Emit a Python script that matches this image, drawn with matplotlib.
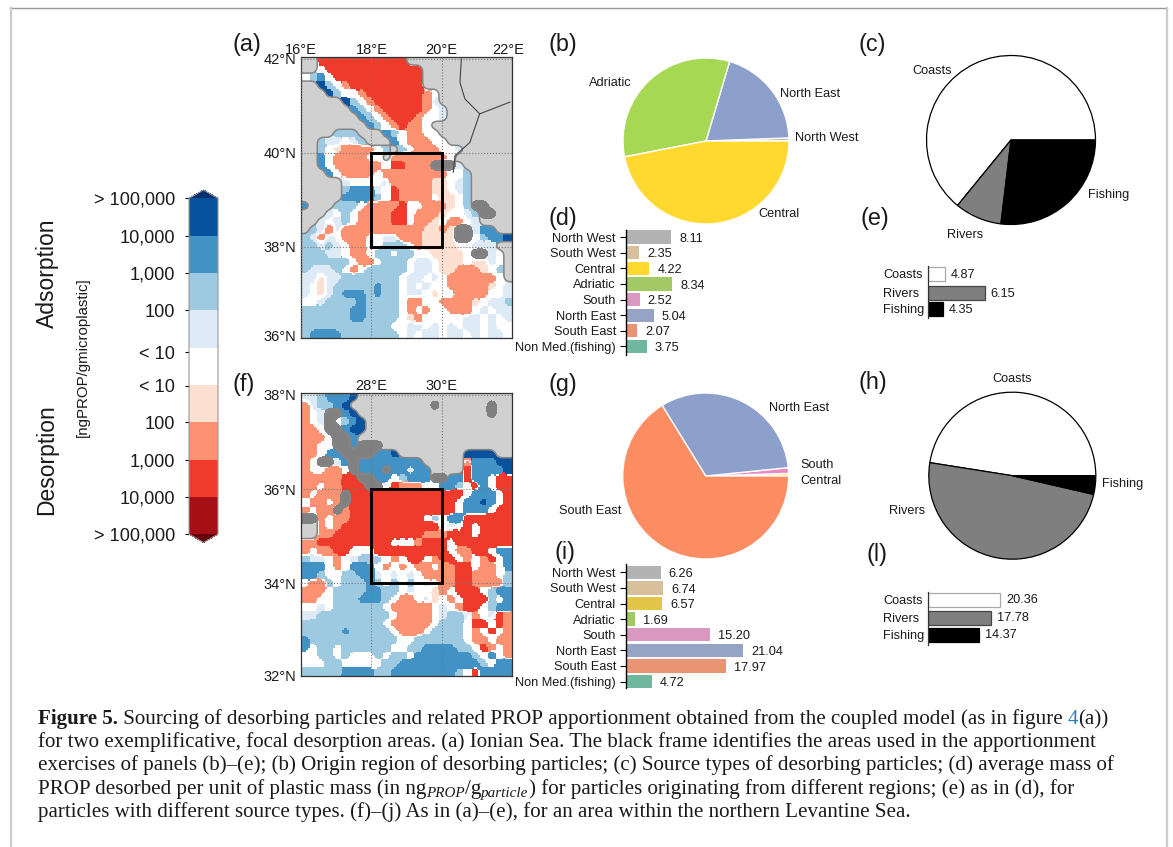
import numpy as np
import matplotlib
matplotlib.use("Agg")
import matplotlib.pyplot as plt
from matplotlib.colors import ListedColormap, BoundaryNorm
from matplotlib.cm import ScalarMappable
from matplotlib.patches import Rectangle
from matplotlib.transforms import ScaledTranslation

W, H = 1173, 847
plt.rcParams['font.family'] = ['Liberation Sans', 'DejaVu Sans']
TXT = '#1a1a1a'

# ---- map category grids (top row = north) -----------------------------------
# L land, K dark land; 0 white; a-d adsorption classes; e-h desorption classes
map_a = [
"LLgggggggggggLLLLLLLLLLLLL",
"LL0ggggggggggggLLLLLLLLLLL",
"0bc0gggggggggggLLLLLLLLLLL",
"LLdb0fgggggggggLLLLLLLLLLL",
"LLLdb00fgggggggf0LLLLLLLLL",
"LLLLLdb0fggggggfaLLLLLLLLL",
"LLLLLLcb0fgggggf0aLLLLLLLL",
"LLLLLLLcb0fgggf00aLLLLLLLL",
"LLLLLLLLcb0fgff0LLLLLLLLLL",
"LLLLbbbLLLcb0ff00LLLLLLLLL",
"LLbaa0abLLLc0fff00LLLLLLLL",
"LLb0effff0bLb0fff00aLLLLLL",
"LLc0ffff00Lfffffff0LLLLLLL",
"LLc0ffffff0ggfffKKKaLLLLLL",
"LLLc0ffff0ffffffff00bLLLLL",
"LLLLLa0000afffffee0abLLLLL",
"LLLLLbccca0gffffee0abLLLLL",
"LLLLLccccb0gffff0ee0bLLLLL",
"cLLLbbb0ffffg00fffe0bKKLLL",
"LLLa0b0ffffgg0fffe00abKKLL",
"LLa0ab0ffffgg0ffe0ff0aLLLL",
"LbafaffffffffffeefeKKaccLL",
"bafa0fffa0aafffeeeeKK0bccd",
"bbaba0ffa0bbb0feeee00aaaLL",
"bbbaa0ff0bb0bb00eeee0KKa0L",
"bbbbbb0ff0bbb0aa0eee0eea0L",
"baaab0f0bbbbb0aa0eefffe0bL",
"aaeaabbbbbbb0aa0a0ffffff0L",
"a0eabbbbbcbb0a0a00fffffe0a",
"a0eabcccbcbb0aa0e00ffff00a",
"00abbbbcbbbb0ff00ffffe0aab",
"bbbbbbccbbbb0f0f00fff0a0aa",
"bbbbbbccbbbb0ef00000aa0a0a",
"bbbbbbbbbbb00aa0a0a0aa0a00",
"bccccbbbbbbb0a0aa0aa0a0aa0",
]
map_f = [
"aabcccdLLLLLLLLLLLLLLLLLLL",
"fabbcdLLLLLLLLLLKLLLLLLKLL",
"f0aKKcdLLLLLLLLLLLLLLLLKLL",
"f0aK0bcdLLLLLLLLLLLLLLLLLL",
"ff0KKcddLLLLLLLLLLLLLLLLLL",
"fff0KKcLLLLLLLLLLLLLLLLLLL",
"ff00KKcKKKLLLLLLLLLLLLLLLL",
"ff0ccKKKKccdLLLLLLLLddddLL",
"f0KKacKccccccccLLLLLfcccdd",
"f00ff0KcccKccaccLLLLgccccd",
"fffffggKKcc0bcccKKccgcc0gg",
"ff0ffgggKK0gfff00ccb0gc0gg",
"f0fffKgggggggggggggg0ccc0g",
"0ff0fKggggggggggggg0ccdc0g",
"f0ffKfggggggggggggg0ccc0gg",
"KKf0ffggggggggg0b0ccgggggg",
"LLf0fgggggggggggg0a0g0gggg",
"LLffgggggggggggfffggg0gggg",
"ffggggggggg0a0fggg0ggggggg",
"f0ffgg000ggggggggg0ffgg0cc",
"baa0f0abbb0f0gg0fgg0f0fg0c",
"ccc0f0ccc0f0f0ff0ffgg0ff0c",
"ccb00bbcca0a0a0ffffggfff0b",
"0ffb0bbbcb0b0b0a0ffggffffb",
"fff0bbbbccbb0a00ef0ggg0bcc",
"ff00bbbcccb0ff0ae0f0gggb0c",
"00a0bbbbbb0fffff0a0fgg0bcc",
"aabbbbbbbbb0ffff0abbaf0agf",
"bbbbbbbbbb0fffff0bbb0gg0gf",
"bbbbbcbbbbb0fff0bbbb0f0g0f",
"cbbbbbbbbbbb00bbbbbb0ff0ff",
"c0bb0bbbbbb00bbccccbb0gf0f",
"00bb0b000b0bb0cccccccb0c0f",
"000bb00000bbccccccccccb0cc",
"bbbbbccccbbccccccccb0gcccc",
]
class_values = {'0': 0, 'a': 1, 'b': 2, 'c': 3, 'd': 4, 'e': -1, 'f': -2, 'g': -3, 'h': -4, 'L': 3, 'K': 2}
band_colors = ['#a50f15', '#ef3b2c', '#fc9272', '#fee0d2', '#ffffff', '#deebf7', '#9ecae1', '#4292c6', '#08519c']
border_lon_1 = [20.56, 20.52, 20.66, 21.08, 21.94]
border_lat_1 = [42.0, 41.5, 41.15, 40.83, 41.08]
border_lon_2 = [21.08, 20.80, 20.38, 20.33]
border_lat_2 = [40.83, 40.22, 39.94, 39.59]

# ---- colour bar -------------------------------------------------------------
cbar_labels = ['> 100,000', '10,000', '1,000', '100', '< 10', '< 10', '100', '1,000', '10,000', '> 100,000']
cbar_ticks = [0, 1, 2, 3, 3.98, 4.88, 6, 7, 8, 9]

# ---- pies -------------------------------------------------------------------
pie_b_names = ['South West', 'North West', 'North East', 'Adriatic', 'Central']
pie_b_vals = [0.1, 0.5, 19.7, 32.5, 46.7]
pie_b_cols = ['#e5c494', '#b3b3b3', '#8da0cb', '#a6d854', '#ffd92f']
pie_c_vals = [64.1, 9.0, 26.9]
pie_g_names = ['Central', 'South', 'North East', 'South East']
pie_g_vals = [0.5, 1.1, 32.2, 66.2]
pie_g_cols = ['#ffd92f', '#e78ac3', '#8da0cb', '#fc8d62']
pie_h_vals = [47.5, 48.9, 3.6]
source_cols = ['#ffffff', '#7f7f7f', '#000000']

# ---- bars -------------------------------------------------------------------
regions = ['North West', 'South West', 'Central', 'Adriatic', 'South', 'North East', 'South East', 'Non Med.(fishing)']
bar_d = [8.11, 2.35, 4.22, 8.34, 2.52, 5.04, 2.07, 3.75]
bar_i = [6.26, 6.74, 6.57, 1.69, 15.20, 21.04, 17.97, 4.72]
cols_d = ['#b3b3b3', '#d9c09d', '#ffd92f', '#a3c967', '#d998c0', '#95a4c4', '#e99472', '#6fb79e']
cols_i = ['#b3b3b3', '#d9c09d', '#e3c648', '#a3c967', '#d998c0', '#95a4c4', '#e99472', '#6fb79e']
sources = ['Coasts', 'Rivers', 'Fishing']
bar_e = [4.87, 16.15, 4.35]
bar_e_labels = ['4.87', '6.15', '4.35']
bar_l = [20.36, 17.78, 14.37]

fig = plt.figure(figsize=(W / 100, H / 100), dpi=100, facecolor='white')


def axpx(l, t, r, b, **kw):
    return fig.add_axes([l / W, 1 - b / H, (r - l) / W, (b - t) / H], **kw)


def tx(x, y, s, **kw):
    kw.setdefault('color', TXT)
    kw.setdefault('va', 'center')
    return fig.text(x / W, 1 - y / H, s, **kw)


def refine(x, y, a, f=5):
    """Resample a coarse field on a finer mesh with a soft kernel, so class edges are rounded."""
    xf = np.linspace(x[0], x[-1], (len(x) - 1) * f + 1)
    yf = np.linspace(y[0], y[-1], (len(y) - 1) * f + 1)
    b = np.array([np.interp(xf, x, row) for row in a])
    b = np.array([np.interp(yf, y, col) for col in b.T]).T
    k = np.array([1, 2, 3, 2, 1], float)
    k /= k.sum()
    for axis in (0, 1):
        b = np.apply_along_axis(lambda v: np.convolve(np.pad(v, 2, mode='edge'), k, mode='valid'), axis, b)
    return xf, yf, b


def draw_map(box, grid, lon0, lat_lim, xt, yt, boxlon, boxlat, shifts):
    ax = axpx(*box)
    rows = [r.ljust(26, r[-1])[:26] for r in grid]
    ny, nx = len(rows), 26
    vals = np.array([[class_values[c] for c in r] for r in rows], float)[::-1]
    land = np.array([[c in 'LK' for c in r] for r in rows], float)[::-1]
    dark = np.array([[c == 'K' for c in r] for r in rows], float)[::-1]
    span = lat_lim[1] - lat_lim[0]
    x = np.r_[lon0, lon0 + (np.arange(nx) + .5) * 6 / nx, lon0 + 6]
    y = np.r_[lat_lim[0], lat_lim[0] + (np.arange(ny) + .5) * span / ny, lat_lim[1]]
    pad = lambda a: np.pad(a, 1, mode='edge')
    # each class keeps its own rounded region; a white rim separates adsorption from desorption
    members = []
    for cls in range(-4, 5):
        one = ((vals == cls) & (land == 0)).astype(float)
        xf, yf, m = refine(x, y, pad(one))
        members.append(m)
    cls_field = np.argmax(np.array(members), axis=0) - 4.0
    _, _, v = refine(x, y, pad(vals))
    cls_field[np.abs(v) < 0.35] = 0
    ax.pcolormesh(xf, yf, cls_field, shading='nearest', cmap=ListedColormap(band_colors),
                  norm=BoundaryNorm(np.arange(-4.5, 5), 9))
    _, _, l = refine(x, y, pad(land))
    ax.contourf(xf, yf, l, levels=[0.5, 1.5], colors=['#d0d0d0'])
    ax.contour(xf, yf, l, levels=[0.5], colors=['#858585'], linewidths=1.1)
    _, _, d = refine(x, y, pad(dark))
    ax.contourf(xf, yf, d, levels=[0.4, 1.5], colors=['#808080'])
    ax.set_xlim(lon0, lon0 + 6)
    ax.set_ylim(*lat_lim)
    ax.set_xticks(xt)
    ax.set_yticks(yt)
    ax.set_xticklabels([f'{v}°E' for v in xt], fontsize=10.5, color=TXT)
    ax.set_yticklabels([f'{round(v)}°N' for v in yt], fontsize=10.5, color=TXT)
    ax.tick_params(length=0, top=True, bottom=False, labeltop=True, labelbottom=False)
    ax.tick_params(axis='x', pad=0)
    ax.tick_params(axis='y', pad=3.5)
    ax.grid(True, ls=':', lw=0.8, color='#777777')
    ax.set_axisbelow(False)
    for lab, (dx, dy) in zip(ax.get_xticklabels() + ax.get_yticklabels(), shifts):
        lab.set_transform(lab.get_transform() + ScaledTranslation(dx / 100, dy / 100, fig.dpi_scale_trans))
    for s in ax.spines.values():
        s.set_linewidth(0.9)
        s.set_color('#333333')
    ax.add_patch(Rectangle((boxlon[0], boxlat[0]), boxlon[1] - boxlon[0], boxlat[1] - boxlat[0],
                           fill=False, ec='black', lw=2.1, zorder=6))
    return ax


ax_a = draw_map((301, 57, 512, 338), map_a, 16, (36.06, 42.04), [16, 18, 20, 22], [36.06, 38, 40, 42], (18, 20), (38, 40),
                [(0, 0), (0, 0), (0, 0), (-4, 0), (0, 2.3), (0, 0), (0, 0), (0, 0)])
ax_a.plot(border_lon_1, border_lat_1, color='#444444', lw=0.8, zorder=5)
ax_a.plot(border_lon_2, border_lat_2, color='#444444', lw=0.8, zorder=5)
draw_map((301, 393, 512, 676), map_f, 26, (32.03, 38.04), [28, 30], [32.03, 34, 36, 38], (28, 30), (34, 36),
         [(0, 0), (0, 0), (0, 1), (0, 0), (0, 0), (0, 0)])

# colour bar
cax = axpx(189, 190, 218, 542.5)
cmap = ListedColormap(band_colors)
cmap.set_under('#67000d')
cmap.set_over('#08306b')
norm = BoundaryNorm(np.arange(10), 9, extend='neither')
cb = fig.colorbar(ScalarMappable(norm=norm, cmap=cmap), cax=cax, extend='both', extendfrac=0.025,
                  ticks=cbar_ticks, spacing='proportional')
cb.ax.yaxis.set_ticks_position('left')
cb.ax.set_yticklabels(cbar_labels, fontsize=13.1, color=TXT)
cb.ax.tick_params(length=3, width=0.8, pad=7, which='major')
cb.ax.minorticks_off()
cb.outline.set_edgecolor('#999999')
cb.outline.set_linewidth(0.8)
tx(47, 273, 'Adsorption', rotation=90, fontsize=16.5, ha='center')
tx(47, 460, 'Desorption', rotation=90, fontsize=16.5, ha='center')
tx(83, 357, '[ngPROP/gmicroplastic]', rotation=90, fontsize=10.8, ha='center')

# panel letters
for x, y, s in [(232, 45, '(a)'), (548, 45, '(b)'), (859, 45, '(c)'), (548, 219, '(d)'), (860, 218, '(e)'),
                (232, 384, '(f)'), (548, 384, '(g)'), (859, 382, '(h)'), (554, 552, '(i)'), (866, 555, '(l)')]:
    tx(x, y, s, fontsize=16.8, ha='left')


def pie(cx, cy, r, vals, cols, ec, lw):
    ax = axpx(cx - r, cy - r, cx + r, cy + r)
    ax.pie(vals, colors=cols, startangle=0, counterclock=True, radius=1,
           wedgeprops=dict(edgecolor=ec, linewidth=lw))
    ax.set_xlim(-1, 1)
    ax.set_ylim(-1, 1)
    ax.axis('off')
    for p in ax.patches:
        p.set_clip_on(False)


pie(706, 141, 83, pie_b_vals, pie_b_cols, 'white', 1.0)
pie(1011, 140, 84.5, pie_c_vals, source_cols, 'black', 0.9)
pie(705.7, 476, 83, pie_g_vals, pie_g_cols, 'white', 1.0)
pie(1012.3, 475.7, 83.5, pie_h_vals, source_cols, 'black', 0.9)

FS = 9.2
for x, y, s in [(589, 83, 'Adriatic'), (780, 94, 'North East'), (795, 138, 'North West'), (758, 214, 'Central'),
                (912, 71, 'Coasts'), (1088, 195, 'Fishing'), (947, 235, 'Rivers'),
                (769, 408, 'North East'), (800, 465, 'South'), (800, 481, 'Central'), (559, 511, 'South East'),
                (992, 379, 'Coasts'), (1102, 484, 'Fishing'), (889, 511, 'Rivers')]:
    tx(x, y, s, fontsize=FS, ha='left')


def bars(spine_x, top, bottom, y0, pitch, pxu, vals, cols, labels):
    ax = axpx(spine_x, top, spine_x + 240, bottom)
    ypos = np.arange(len(vals))
    ax.barh(ypos, vals, height=0.85, color=cols, edgecolor='none')
    ax.set_xlim(0, 240 / pxu)
    ax.set_ylim((bottom - y0) / pitch, (top - y0) / pitch)
    ax.set_yticks(ypos)
    ax.set_yticklabels(labels, fontsize=FS, color=TXT)
    ax.tick_params(axis='y', length=4, width=0.8, pad=3)
    ax.set_xticks([])
    for s in ['top', 'right', 'bottom']:
        ax.spines[s].set_visible(False)
    ax.spines['left'].set_linewidth(1.0)
    ax.patch.set_alpha(0)
    for yy, v in zip(ypos, vals):
        ax.annotate(f'{v:.2f}', (v, yy), xytext=(5.8, -1.2), textcoords='offset points', fontsize=FS, color=TXT,
                    va='center', ha='left')


bars(625.7, 230, 355, 237, 15.63, 5.59, bar_d, cols_d, regions)
bars(625.7, 564, 688, 572.3, 15.6, 5.57, bar_i, cols_i, regions)


def source_bars(spine_x, top, bottom, centers, pxu, vals, labels, label_dy):
    ax = axpx(spine_x, top, spine_x + 120, bottom)
    ax.set_xlim(0, 120 / pxu)
    ax.set_ylim(bottom, top)
    ax.barh(centers, vals, height=14.2, color=source_cols, edgecolor=['#aaaaaa', '#444444', '#000000'], linewidth=0.9)
    ax.set_xticks([])
    ax.set_yticks([])
    for s in ['top', 'right', 'bottom']:
        ax.spines[s].set_visible(False)
    ax.spines['left'].set_linewidth(0.9)
    ax.spines['left'].set_color('#333333')
    ax.patch.set_alpha(0)
    for yy, v, lab, name in zip(centers, vals, labels, sources):
        ax.annotate(lab, (v, yy + label_dy), xytext=(4.0, 0), textcoords='offset points', fontsize=FS, color=TXT,
                    va='center', ha='left')
        tx(883, yy + 1, name, fontsize=FS, ha='left')


source_bars(927.5, 266, 318, [274.3, 292.7, 309.3], 3.55, bar_e, bar_e_labels, 1)
source_bars(927.7, 592, 645, [600, 618.3, 635.3], 3.57, bar_l, [f'{v:.2f}' for v in bar_l], 0)

# page frame
for xs, ys, c, lw in [((10, 1167), (8, 8), '#999999', 1.0), ((11, 11), (8, 847), '#cccccc', 1.6),
                      ((1167, 1167), (8, 847), '#cccccc', 1.6)]:
    fig.add_artist(plt.Line2D([x / W for x in xs], [1 - y / H for y in ys], color=c, lw=lw))

# caption
SERIF = ['Liberation Serif', 'DejaVu Serif']
CFS = 15.1
caption = [
    [('Figure 5.', 'b', TXT), (' Sourcing of desorbing particles and related PROP apportionment obtained from the coupled model (as in figure ', 'n', TXT), ('4', 'n', '#2a7fb8'), ('(a))', 'n', TXT)],
    [('for two exemplificative, focal desorption areas. (a) Ionian Sea. The black frame identifies the areas used in the apportionment', 'n', TXT)],
    [('exercises of panels (b)–(e); (b) Origin region of desorbing particles; (c) Source types of desorbing particles; (d) average mass of', 'n', TXT)],
    [('PROP desorbed per unit of plastic mass (in ng', 'n', TXT), ('PROP', 's', TXT), ('/g', 'n', TXT), ('particle', 's', TXT), (') for particles originating from different regions; (e) as in (d), for', 'n', TXT)],
    [('particles with different source types. (f)–(j) As in (a)–(e), for an area within the northern Levantine Sea.', 'n', TXT)],
]
baselines = [724, 747, 770, 794, 817]
rend = fig.canvas.get_renderer()
for line, by in zip(caption, baselines):
    x = 38.0
    for s, kind, c in line:
        kw = dict(fontfamily=SERIF, fontsize=CFS, color=c, va='baseline', ha='left')
        yy = by
        if kind == 'b':
            kw['fontweight'] = 'bold'
        if kind == 's':
            kw.update(fontstyle='italic', fontsize=CFS * 0.72)
            yy = by + 3
        t = tx(x, yy, s.replace(' ', '\u00a0') if s.endswith(' ') or s.startswith(' ') else s, **kw)
        x += t.get_window_extent(rend).width

fig.savefig('out.png', dpi=100, facecolor='white')
